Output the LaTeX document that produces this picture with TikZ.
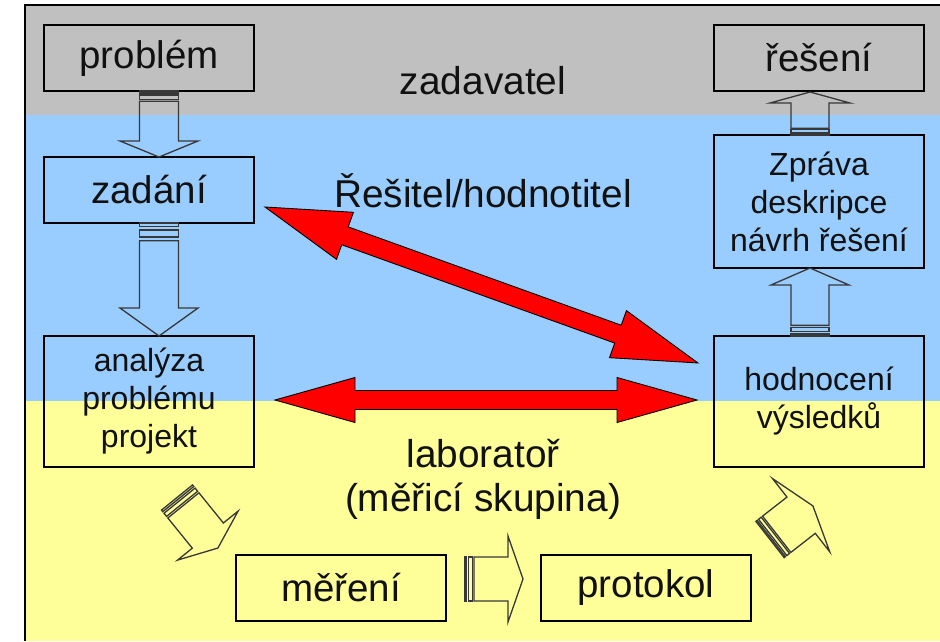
\documentclass[tikz,border=0pt]{standalone}
\usepackage{fontspec}
\setmainfont{Liberation Sans}
\definecolor{bggray}{HTML}{C0C0C0}
\definecolor{bgblue}{HTML}{99CCFF}
\definecolor{bgyellow}{HTML}{FFFF99}
\definecolor{arrline}{HTML}{383838}
\definecolor{txt}{HTML}{111111}
% striped hollow block arrow: tail, angle, length, shaft half-width, head half-width, head length
\newcommand{\stripedarrow}[6]{%
  \begin{scope}[shift={#1},rotate=#2]
    \draw[hollow] (0,-#4) rectangle ({#3/32},#4);
    \draw[hollow] ({#3/16},-#4) rectangle ({#3/8},#4);
    \draw[hollow] ({5*#3/32},-#4) -- ({#3-#6},-#4) -- ({#3-#6},-#5) -- (#3,0)
      -- ({#3-#6},#5) -- ({#3-#6},#4) -- ({5*#3/32},#4) -- cycle;
  \end{scope}}
% red double-headed block arrow: tip, angle, length, shaft half-width, head half-width, head length
\newcommand{\dblarrow}[6]{%
  \begin{scope}[shift={#1},rotate=#2]
    \draw[redarr] (0,0) -- (#6,#5) -- (#6,#4) -- ({#3-#6},#4) -- ({#3-#6},#5) -- (#3,0)
      -- ({#3-#6},-#5) -- ({#3-#6},-#4) -- (#6,-#4) -- (#6,-#5) -- cycle;
  \end{scope}}
\begin{document}
\begin{tikzpicture}[x=1pt,y=-1pt,
  box/.style={draw=black,line width=1.2pt,inner sep=0pt,minimum width=210pt,text=txt,
    font=\fontsize{38.5}{44}\selectfont},
  small/.style={font=\fontsize{32}{38}\selectfont,align=center},
  lbl/.style={inner sep=0pt,text=txt,font=\fontsize{38.8}{44}\selectfont,align=center},
  hollow/.style={draw=arrline,line width=1.3pt,line join=miter},
  redarr/.style={draw=black,fill=red,line width=0.9pt,line join=miter}]
\useasboundingbox (0,0) rectangle (940,641);
% background bands
\fill[bggray] (25,5) rectangle (940,115);
\fill[bgblue] (25,115) rectangle (940,401);
\fill[bgyellow] (25,401) rectangle (940,641);
\draw[line width=1.2pt] (25,641) -- (25,5) -- (940,5);
% boxes
\node[box,minimum height=66pt] (problem) at (149,58) {problém};
\node[box,minimum height=66pt] (zadani) at (149,190) {zadání};
\node[box,small,minimum height=131pt] (analyza) at (149,401.5) {analýza\\problému\\projekt};
\node[box,minimum height=66pt] (reseni) at (819,58) {řešení};
\node[box,small,minimum height=133pt] (zprava) at (819,201.5) {Zpráva\\deskripce\\návrh řešení};
\node[box,small,minimum height=131pt] (hodnoceni) at (819,401.5) {hodnocení\\výsledků};
\node[box,minimum height=66pt] (mereni) at (341,588) {měření};
\node[box,minimum height=66pt] (protokol) at (646,588) {protokol};
% labels
\node[lbl] (zadavatel) at (483,81) {zadavatel};
\node[lbl] (resitel) at (483,191) {Řešitel/hodnotitel};
\node[lbl] (lab) at (483,479) {laboratoř\\(měřicí skupina)};
% hollow striped arrows
\stripedarrow{(159,91)}{-90}{66}{19.5}{39}{16}
\stripedarrow{(159,223)}{-90}{113}{19.5}{39}{28}
\stripedarrow{(810,336)}{90}{68}{19}{39}{17}
\stripedarrow{(810,135)}{90}{43}{19}{40}{11}
\stripedarrow{(177,497.5)}{-51}{65}{20}{39}{16}
\stripedarrow{(465,579)}{0}{58}{22}{43}{15}
\stripedarrow{(770,539.5)}{38}{54.5}{23}{46.5}{15}
% red double arrows
\dblarrow{(275,400)}{0}{422}{9.5}{22.5}{80}
\dblarrow{(265,207)}{-19.81}{460.2}{9.5}{25}{85}
\end{tikzpicture}
\end{document}
